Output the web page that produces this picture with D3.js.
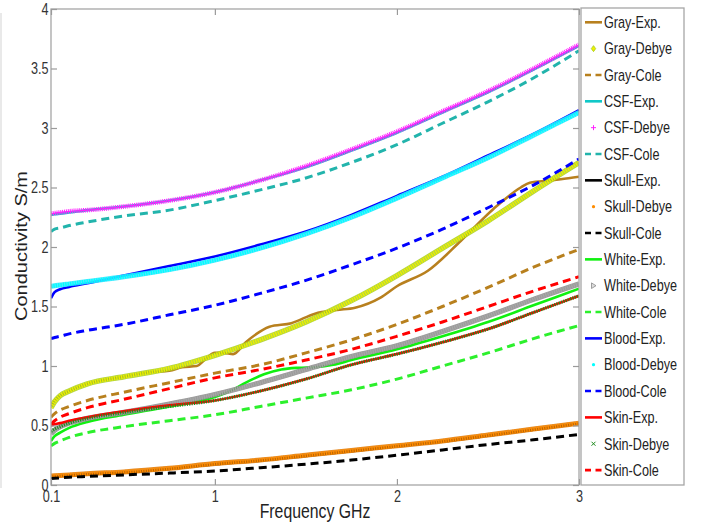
<!DOCTYPE html>
<html><head><meta charset="utf-8">
<script src="https://cdn.jsdelivr.net/npm/d3@7"></script>
<style>body{margin:0;background:#fff}svg{display:block}text{font-family:"Liberation Sans",Arial,sans-serif}</style>
</head><body><svg id="c" width="704" height="524"></svg>
<script>
// ---------- data ----------
const freq = [0.1,0.12,0.15,0.2,0.3,0.5,0.75,1.0,1.25,1.5,1.75,2.0,2.25,2.5,2.75,3.0];

const grayExpFreq = [0.1,0.12,0.15,0.2,0.3,0.5,0.65,0.75,0.82,0.9,0.95,1.0,1.05,1.1,1.17,1.3,1.42,1.55,1.67,1.77,1.91,2.0,2.17,2.35,2.53,2.68,2.73,2.84,2.9,3.0];
const grayExp     = [0.66,0.71,0.75,0.79,0.85,0.91,0.95,0.96,0.99,1.00,1.06,1.11,1.11,1.10,1.20,1.33,1.36,1.44,1.47,1.49,1.575,1.67,1.80,2.05,2.32,2.50,2.54,2.56,2.57,2.59];
const grayDebye   = [0.65,0.70,0.75,0.79,0.85,0.91,0.98,1.09,1.22,1.37,1.55,1.76,1.99,2.22,2.47,2.71];
const grayCole    = [0.57,0.60,0.63,0.66,0.71,0.78,0.86,0.94,1.01,1.11,1.22,1.35,1.50,1.66,1.83,1.98];

const csfExp      = [2.27,2.275,2.28,2.29,2.31,2.34,2.39,2.46,2.56,2.67,2.81,2.96,3.13,3.30,3.49,3.69];
const csfDebye    = [2.28,2.285,2.29,2.30,2.31,2.34,2.39,2.46,2.56,2.68,2.82,2.97,3.14,3.31,3.50,3.70];
const csfCole     = [2.13,2.15,2.16,2.18,2.21,2.26,2.31,2.39,2.48,2.58,2.71,2.86,3.04,3.22,3.42,3.65];

const skullExp    = [0.07,0.072,0.075,0.08,0.09,0.105,0.135,0.175,0.205,0.245,0.285,0.325,0.365,0.415,0.465,0.515];
const skullDebye  = [0.075,0.077,0.08,0.085,0.095,0.11,0.14,0.18,0.21,0.25,0.29,0.33,0.37,0.42,0.47,0.52];
const skullCole   = [0.055,0.057,0.06,0.065,0.072,0.085,0.10,0.118,0.145,0.175,0.21,0.25,0.295,0.34,0.38,0.425];

const whiteExpFreq = [0.1,0.12,0.15,0.2,0.3,0.5,0.75,1.0,1.1,1.17,1.27,1.365,1.46,1.55,1.65,1.75,2.0,2.25,2.5,2.75,3.0];
const whiteExp     = [0.37,0.41,0.44,0.48,0.53,0.59,0.66,0.74,0.80,0.86,0.93,0.97,0.985,0.99,1.01,1.05,1.14,1.25,1.37,1.51,1.65];
const whiteDebye  = [0.43,0.46,0.49,0.52,0.56,0.61,0.68,0.76,0.86,0.97,1.08,1.17,1.29,1.42,1.56,1.69];
const whiteCole   = [0.33,0.35,0.37,0.40,0.44,0.49,0.54,0.59,0.66,0.73,0.80,0.89,1.00,1.11,1.23,1.34];

const bloodExp    = [1.57,1.62,1.645,1.665,1.695,1.76,1.84,1.92,2.02,2.13,2.27,2.43,2.59,2.77,2.95,3.15];
const bloodDebye  = [1.67,1.675,1.68,1.69,1.71,1.75,1.81,1.89,1.99,2.11,2.25,2.41,2.58,2.75,2.94,3.13];
const bloodCole   = [1.23,1.24,1.25,1.27,1.30,1.35,1.43,1.51,1.61,1.72,1.85,1.99,2.15,2.33,2.52,2.74];

const skinExp     = [0.50,0.51,0.52,0.54,0.57,0.62,0.67,0.71,0.79,0.89,1.01,1.10,1.20,1.31,1.45,1.59];
const skinDebye   = [0.45,0.47,0.49,0.52,0.56,0.61,0.66,0.71,0.79,0.89,1.01,1.10,1.20,1.31,1.45,1.59];
const skinCole    = [0.51,0.54,0.57,0.60,0.65,0.72,0.81,0.90,0.97,1.05,1.14,1.25,1.37,1.50,1.63,1.75];

const seriesNames = ["Gray-Exp.","Gray-Debye","Gray-Cole","CSF-Exp.","CSF-Debye","CSF-Cole",
  "Skull-Exp.","Skull-Debye","Skull-Cole","White-Exp.","White-Debye","White-Cole",
  "Blood-Exp.","Blood-Debye","Blood-Cole","Skin-Exp.","Skin-Debye","Skin-Cole"];

const yTicks = [0,0.5,1,1.5,2,2.5,3,3.5,4];
const yTickLabels = ["0","0.5","1","1.5","2","2.5","3","3.5","4"];
const xTicks = [0.1,1,2,3];
const xTickLabels = ["0.1","1","2","3"];
const xTitle = "Frequency GHz";
const yTitle = "Conductivity S/m";

// ---------- series table (built from arrays) ----------
const seriesX = [grayExpFreq,freq,freq,freq,freq,freq,freq,freq,freq,whiteExpFreq,freq,freq,freq,freq,freq,freq,freq,freq];
const seriesY = [grayExp,grayDebye,grayCole,csfExp,csfDebye,csfCole,skullExp,skullDebye,skullCole,
  whiteExp,whiteDebye,whiteCole,bloodExp,bloodDebye,bloodCole,skinExp,skinDebye,skinCole];

// styles
const styles = [
  {kind:"solid", color:"#b8801e"},
  {kind:"debye", color:"#eef000", under:"#a6cc20", w:4.2, uw:5.5, dash:"1.3,1.1", marker:"diamond"},
  {kind:"dash",  color:"#b8801e"},
  {kind:"solid", color:"#10c8c8"},
  {kind:"debye", color:"#ff20ff", under:null, w:4.6, uw:0, dash:"1,0.9", core:1.3, marker:"plus"},
  {kind:"dash",  color:"#22b4ac"},
  {kind:"solid", color:"#000000"},
  {kind:"debye", color:"#ff8c00", under:"#e07800", w:4.0, uw:5.0, dash:"1.3,1.1", marker:"dot"},
  {kind:"dash",  color:"#000000"},
  {kind:"solid", color:"#10f010"},
  {kind:"debye", color:"#a8a8a8", under:"#8a8a8a", w:4.2, uw:5.2, dash:"1.2,1.1", marker:"tri"},
  {kind:"dash",  color:"#2cf02c"},
  {kind:"solid", color:"#0000ff"},
  {kind:"debye", color:"#00ffff", under:"#30e8ff", w:4.0, uw:5.0, dash:"1.3,1.1", marker:"dot"},
  {kind:"dash",  color:"#0000ff"},
  {kind:"solid", color:"#ff0000"},
  {kind:"debye", color:"#1e8c1e", under:null, w:3.2, uw:0, dash:"1.2,1.2", marker:"x"},
  {kind:"dash",  color:"#ff0000"}
];

const svg = d3.select("#c");
const W = 704, H = 524;
const L = 51, R = 579, T = 9, B = 485;
const x = d3.scaleLinear().domain([0.1,3]).range([L,R]);
const y = d3.scaleLinear().domain([0,4]).range([B,T]);
const SX = 0.79;

svg.append("rect").attr("width",W).attr("height",H).attr("fill","#fff");
svg.append("line").attr("x1",1).attr("x2",1).attr("y1",13).attr("y2",488).attr("stroke","#e2e2e2").attr("stroke-width",1.5);

svg.append("clipPath").attr("id","clip").append("rect").attr("x",L).attr("y",T).attr("width",R-L).attr("height",B-T);

const plot = svg.append("g").attr("clip-path","url(#clip)");
const line = d3.line().curve(d3.curveMonotoneX);

seriesNames.forEach((name,i)=>{
  const pts = seriesX[i].map((f,j)=>[x(f), y(seriesY[i][j])]);
  const st = styles[i];
  const d = line(pts);
  if (st.kind==="solid") {
    plot.append("path").attr("d",d).attr("fill","none").attr("stroke",st.color).attr("stroke-width",2.6);
  } else if (st.kind==="dash") {
    plot.append("path").attr("d",d).attr("fill","none").attr("stroke",st.color).attr("stroke-width",3).attr("stroke-dasharray","8,5");
  } else {
    if (st.under) plot.append("path").attr("d",d).attr("fill","none").attr("stroke",st.under).attr("stroke-width",st.uw).attr("stroke-opacity",0.85);
    plot.append("path").attr("d",d).attr("fill","none").attr("stroke",st.color).attr("stroke-width",st.w).attr("stroke-dasharray",st.dash);
    if (st.core) plot.append("path").attr("d",d).attr("fill","none").attr("stroke",st.color).attr("stroke-width",st.core);
  }
});

// frame
svg.append("rect").attr("x",L).attr("y",T).attr("width",R-L).attr("height",B-T)
  .attr("fill","none").attr("stroke","#a6a6a6").attr("stroke-width",1.3);

// axes
const axStyle = g=>{
  g.select(".domain").remove();
  g.selectAll(".tick line").attr("stroke","#9a9a9a").attr("stroke-width",1.2);
  g.selectAll(".tick text").attr("fill","#333").style("font-size","16px")
    .attr("font-family","Liberation Sans, Arial, sans-serif");
};
const gy = svg.append("g").attr("transform",`translate(${L},0)`)
  .call(d3.axisLeft(y).tickValues(yTicks).tickFormat((d,i)=>yTickLabels[i]).tickSizeInner(-6).tickSizeOuter(0).tickPadding(3));
axStyle(gy);
gy.selectAll(".tick text").attr("transform",`scale(${SX},1)`);
const gyr = svg.append("g").attr("transform",`translate(${R},0)`)
  .call(d3.axisRight(y).tickValues(yTicks).tickFormat("").tickSizeInner(-6).tickSizeOuter(0));
axStyle(gyr);
const gx = svg.append("g").attr("transform",`translate(0,${B})`)
  .call(d3.axisBottom(x).tickValues(xTicks).tickFormat((d,i)=>xTickLabels[i]).tickSizeInner(-6).tickSizeOuter(0).tickPadding(6));
axStyle(gx);
gx.selectAll(".tick text").attr("transform",`scale(${SX},1)`);
const gxt = svg.append("g").attr("transform",`translate(0,${T})`)
  .call(d3.axisTop(x).tickValues(xTicks).tickFormat("").tickSizeInner(-6).tickSizeOuter(0));
axStyle(gxt);

// axis titles
svg.append("text").attr("transform",`translate(${(L+R)/2},518) scale(${SX},1)`)
  .attr("text-anchor","middle").style("font-size","20px").attr("fill","#222").text(xTitle);
svg.append("text").attr("transform",`translate(27,246) rotate(-90) scale(1,${SX})`)
  .attr("text-anchor","middle").style("font-size","20px").attr("fill","#222").text(yTitle);

// legend
const LX = 581, LY = 8, LW = 103, LH = 477;
svg.append("rect").attr("x",LX).attr("y",LY).attr("width",LW).attr("height",LH)
  .attr("fill","#fff").attr("stroke","#a6a6a6").attr("stroke-width",1.3);
const legStep = 26.34, leg0 = 22.3;
seriesNames.forEach((name,i)=>{
  const yy = leg0 + i*legStep;
  const st = styles[i];
  const g = svg.append("g");
  if (st.kind==="solid") {
    g.append("line").attr("x1",585).attr("x2",602).attr("y1",yy).attr("y2",yy).attr("stroke",st.color).attr("stroke-width",2.6);
  } else if (st.kind==="dash") {
    g.append("line").attr("x1",585).attr("x2",602).attr("y1",yy).attr("y2",yy).attr("stroke",st.color).attr("stroke-width",2.6).attr("stroke-dasharray","6,4.5");
  } else {
    const cx = 593.5;
    if (st.marker==="diamond") g.append("path").attr("d",`M${cx},${yy-3}L${cx+2.2},${yy}L${cx},${yy+3}L${cx-2.2},${yy}Z`).attr("fill",st.color).attr("stroke",st.under).attr("stroke-width",0.8);
    else if (st.marker==="plus") g.append("path").attr("d",`M${cx-2.5},${yy}H${cx+2.5}M${cx},${yy-2.5}V${yy+2.5}`).attr("stroke",st.color).attr("stroke-width",1);
    else if (st.marker==="dot") g.append("circle").attr("cx",cx).attr("cy",yy).attr("r",1.6).attr("fill",st.color);
    else if (st.marker==="tri") g.append("path").attr("d",`M${cx-2},${yy-2.8}L${cx+2.5},${yy}L${cx-2},${yy+2.8}Z`).attr("fill","#ddd").attr("stroke",st.under).attr("stroke-width",0.8);
    else if (st.marker==="x") g.append("path").attr("d",`M${cx-2},${yy-2}L${cx+2},${yy+2}M${cx-2},${yy+2}L${cx+2},${yy-2}`).attr("stroke",st.color).attr("stroke-width",1);
  }
  g.append("text").attr("transform",`translate(604,${yy}) scale(${SX},1)`).attr("dy","0.36em")
    .style("font-size","16px").attr("fill","#222").text(name);
});
</script></body></html>
